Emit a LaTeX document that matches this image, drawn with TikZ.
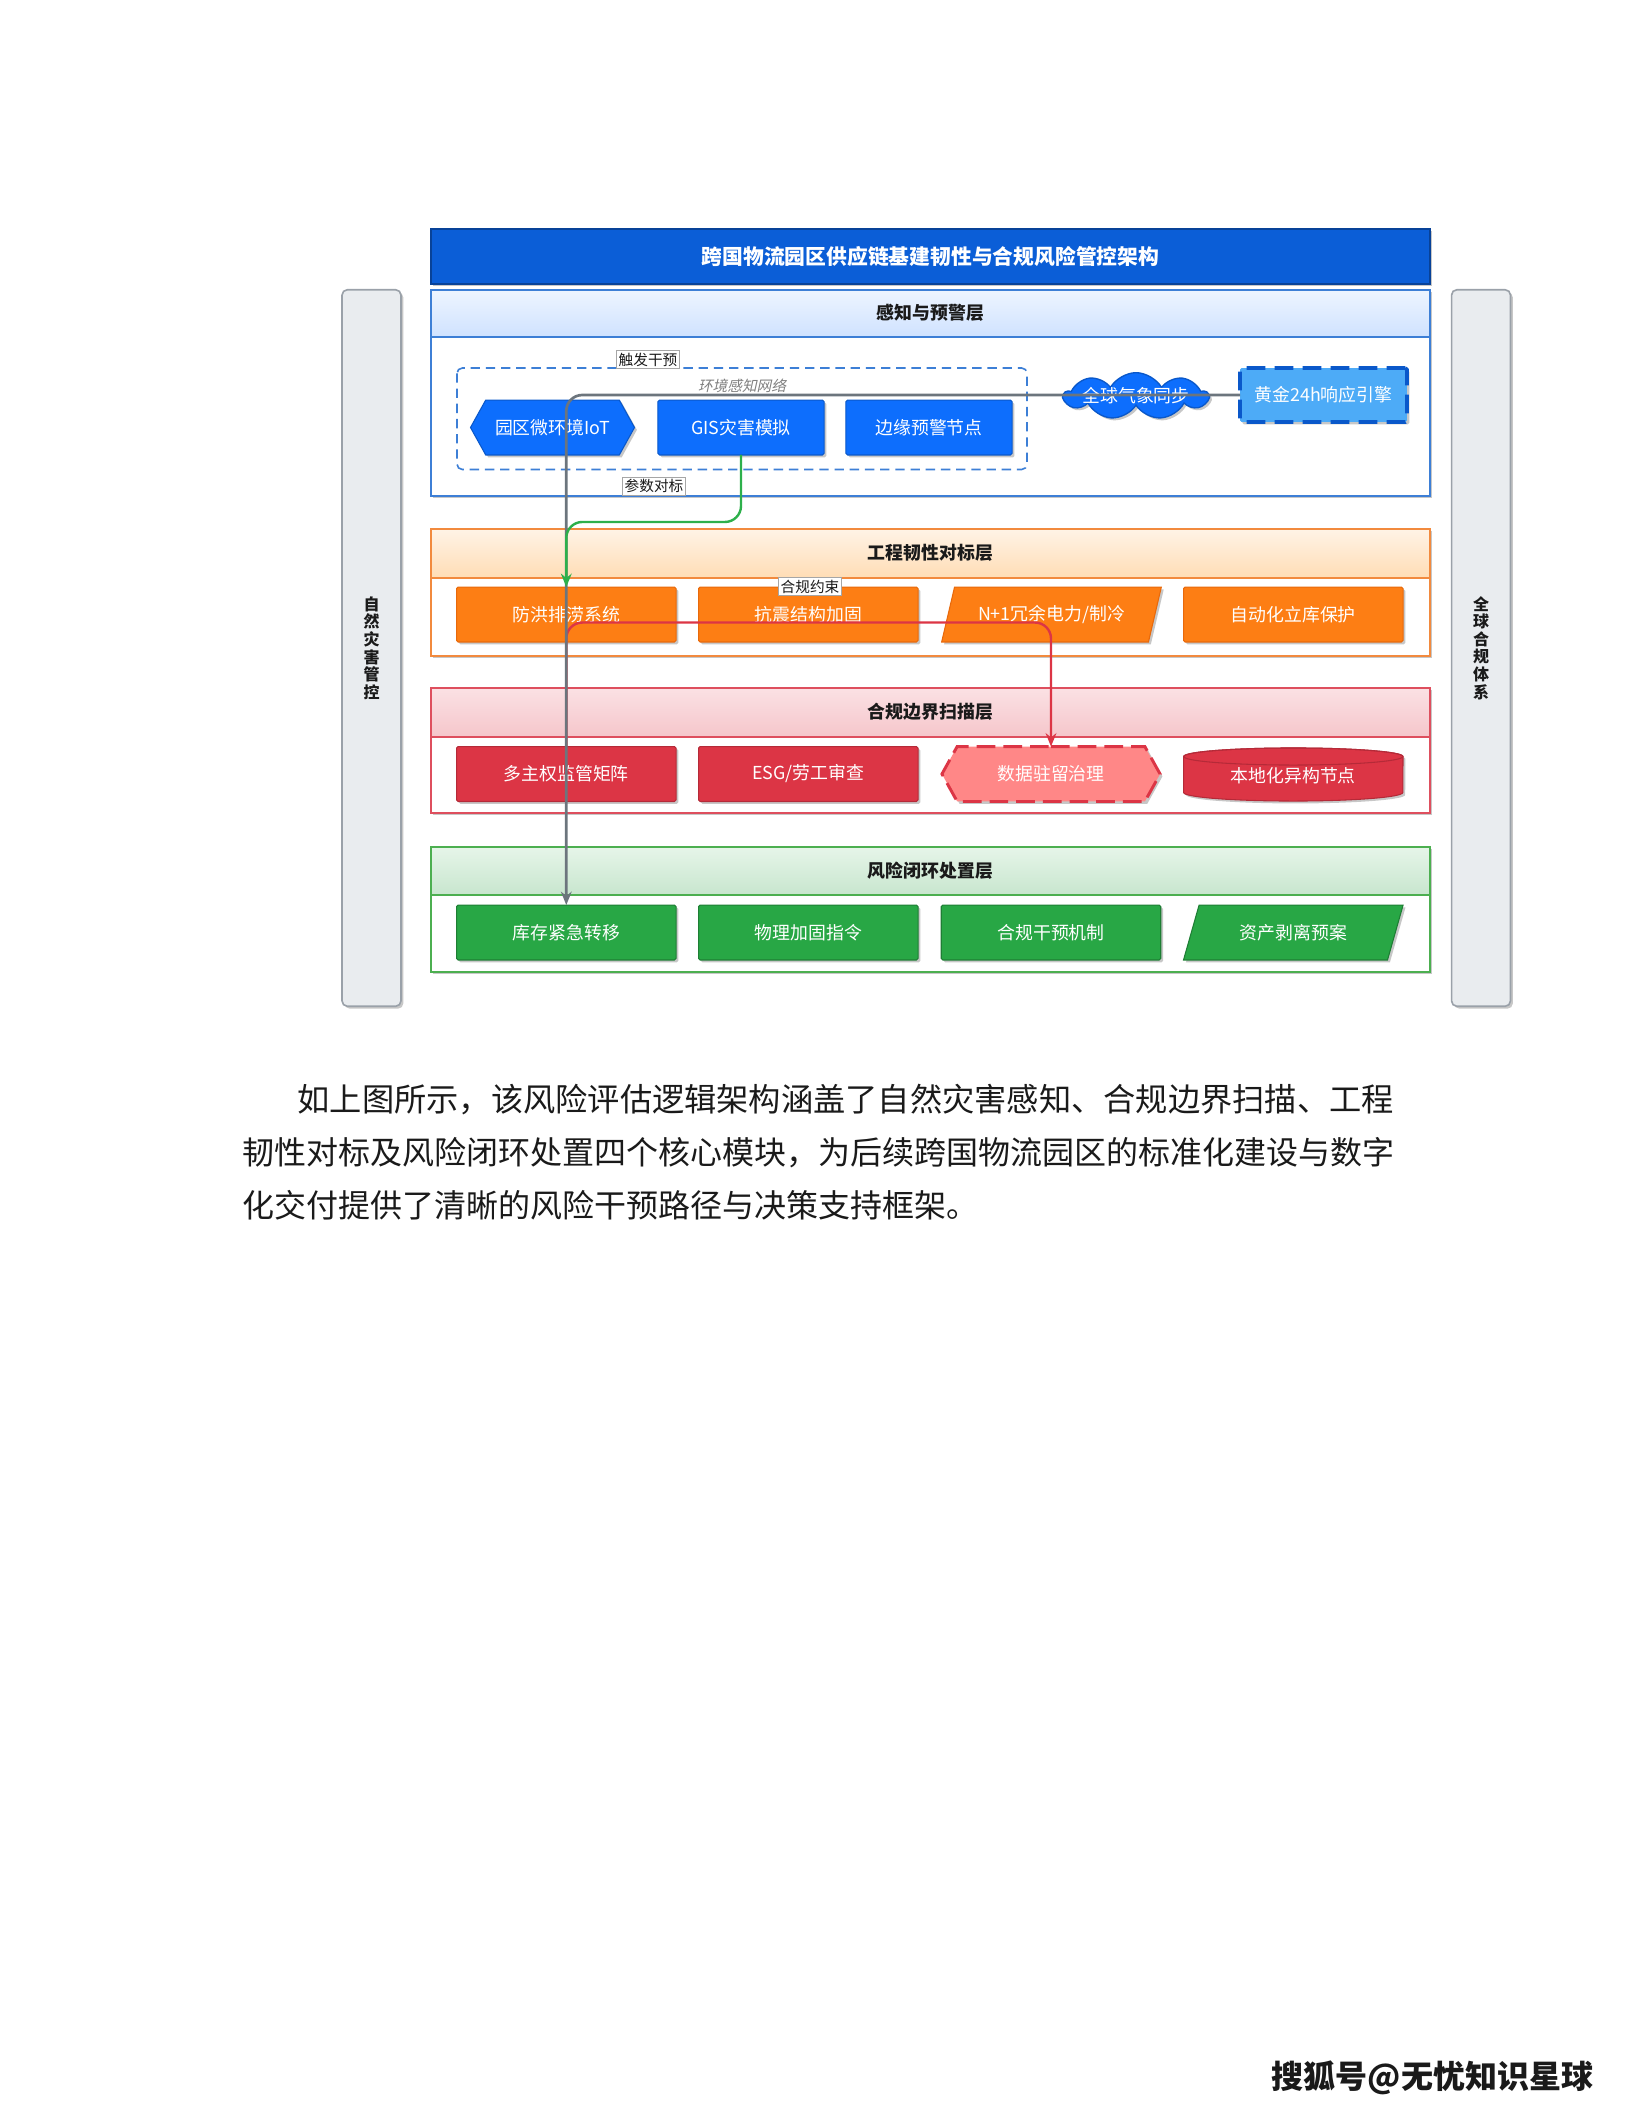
\documentclass[tikz,border=0pt]{standalone}
\usepackage{fontspec}
\setmainfont{Noto Sans CJK SC}
\newfontfamily\slantcjk[FakeSlant=0.22]{Noto Sans CJK SC}
\usepackage{tikz}
\usetikzlibrary{arrows.meta,shapes.geometric,shapes.symbols,shadows}

\definecolor{titleblue}{HTML}{0B5ED7}
\definecolor{titleline}{HTML}{084298}
\definecolor{nodeblue}{HTML}{0D6EFD}
\definecolor{blueline}{HTML}{0A58CA}
\definecolor{goldblue}{HTML}{4DABF7}
\definecolor{lyblue}{HTML}{3D7FD6}
\definecolor{hdblueA}{HTML}{EEF5FF}
\definecolor{hdblueB}{HTML}{CFE2FF}
\definecolor{nodeorange}{HTML}{FD7E14}
\definecolor{orangeline}{HTML}{E8690B}
\definecolor{lyorange}{HTML}{F28A3E}
\definecolor{hdorangeA}{HTML}{FFF3E6}
\definecolor{hdorangeB}{HTML}{FFDDB5}
\definecolor{nodered}{HTML}{DC3545}
\definecolor{redline}{HTML}{B52A38}
\definecolor{lyred}{HTML}{DE4F5E}
\definecolor{hdredA}{HTML}{FBE1E4}
\definecolor{hdredB}{HTML}{F5C6CB}
\definecolor{nodepink}{HTML}{FF8787}
\definecolor{nodegreen}{HTML}{28A745}
\definecolor{greenline}{HTML}{1E7E34}
\definecolor{lygreen}{HTML}{4CAF50}
\definecolor{hdgreenA}{HTML}{E6F5E9}
\definecolor{hdgreenB}{HTML}{C8E6CE}
\definecolor{barfill}{HTML}{E9ECEF}
\definecolor{barline}{HTML}{9AA1A9}
\definecolor{flowgray}{HTML}{6C757D}
\definecolor{flowgreen}{HTML}{2DB04B}
\definecolor{flowred}{HTML}{DC3545}
\definecolor{inktext}{HTML}{1A1A1A}

\begin{document}
\begin{tikzpicture}[x=0.375pt,y=-0.375pt,>={Stealth[length=5pt,width=4pt]},
  every node/.style={inner sep=0pt,outer sep=0pt},
  softshadow/.style={drop shadow={shadow xshift=0.9pt,shadow yshift=-0.9pt,opacity=0.22,fill=black}},
  boxtext/.style={font=\fontsize{6.7pt}{8pt}\selectfont,text=white},
  tile/.style={rectangle,rounded corners=0.6pt,line width=0.4pt,minimum width=82.3pt,minimum height=20.6pt,boxtext,softshadow},
  bluetile/.style={tile,fill=nodeblue,draw=blueline,minimum width=62.3pt},
  orangetile/.style={tile,fill=nodeorange,draw=orangeline},
  redtile/.style={tile,fill=nodered,draw=redline},
  greentile/.style={tile,fill=nodegreen,draw=greenline},
  hextile/.style={signal,signal to=west and east,signal pointer angle=122,line width=0.4pt,minimum height=20.6pt,boxtext,softshadow},
  slanttile/.style={trapezium,trapezium left angle=62,trapezium right angle=118,trapezium stretches=true,line width=0.4pt,minimum width=82.5pt,minimum height=20.6pt,boxtext,softshadow},
  titlebar/.style={rectangle,fill=titleblue,draw=titleline,line width=0.5pt,minimum width=374.6pt,minimum height=20.6pt,font=\fontsize{7.8pt}{9pt}\selectfont\bfseries,text=white,softshadow},
  layerbox/.style={line width=0.75pt,fill=white,softshadow},
  headband/.style={line width=0.75pt},
  headtext/.style={font=\fontsize{6.7pt}{8pt}\selectfont\bfseries,text=inktext},
  groupbox/.style={draw=lyblue,line width=0.6pt,dash pattern=on 3.5pt off 2.2pt,rounded corners=2pt},
  grouptext/.style={font=\fontsize{5.5pt}{6.5pt}\slantcjk,text=gray},
  flowlabel/.style={draw=gray!70,fill=white,line width=0.3pt,inner sep=0.8pt,font=\fontsize{5.5pt}{6.5pt}\selectfont,text=inktext},
  sidebar/.style={rectangle,rounded corners=2pt,fill=barfill,draw=barline,line width=0.6pt,minimum width=22.1pt,minimum height=268.7pt,align=center,font=\fontsize{6pt}{6.6pt}\selectfont\bfseries,text=inktext,softshadow},
  flowline/.style={line width=0.9pt,rounded corners=6pt,->},
  bodytext/.style={font=\fontsize{12pt}{14pt}\selectfont,text=inktext,anchor=west},
]
\useasboundingbox[fill=white] (0,0) rectangle (1632,2112);

% side pillars
\node[sidebar] (leftbar) at (371.5,648) {自\\然\\灾\\害\\管\\控};
\node[sidebar] (rightbar) at (1481,648) {全\\球\\合\\规\\体\\系};

% title
\node[titlebar] (title) at (930.5,256.5) {跨国物流园区供应链基建韧性与合规风险管控架构};

% layer 1: sensing and warning
\draw[layerbox,draw=lyblue] (431,289.5) rectangle (1430,495.5);
\draw[headband,draw=lyblue,top color=hdblueA,bottom color=hdblueB] (431,289.5) rectangle (1430,337);
\node[headtext] (head1) at (930.5,313) {感知与预警层};
\draw[groupbox] (457,368) rectangle (1027,469.5);
\node[grouptext] (grouplbl) at (742,385.5) {环境感知网络};
\node[hextile,fill=nodeblue,draw=blueline,minimum width=61.5pt] (iot) at (552.5,427.5) {园区微环境IoT};
\node[bluetile] (gis) at (741,427.5) {GIS灾害模拟};
\node[bluetile] (edgewarn) at (929,427.5) {边缘预警节点};
\node[cloud,cloud puffs=9,cloud puff arc=120,aspect=2.8,fill=nodeblue,draw=blueline,line width=0.5pt,
  minimum width=54pt,minimum height=17.5pt,softshadow] (meteo) at (1136,396) {};
\node[boxtext] (meteotxt) at (meteo.center) {全球气象同步};
\node[tile,fill=goldblue,draw=blueline,line width=1.4pt,dash pattern=on 7pt off 3.5pt,
  minimum width=62.6pt,minimum height=20.2pt] (gold) at (1323.5,395) {黄金24h响应引擎};

% layer 2: engineering resilience
\draw[layerbox,draw=lyorange] (431,529) rectangle (1430,655.5);
\draw[headband,draw=lyorange,top color=hdorangeA,bottom color=hdorangeB] (431,529) rectangle (1430,577.5);
\node[headtext] (head2) at (930.5,553) {工程韧性对标层};
\node[orangetile] (flood) at (566.3,614.5) {防洪排涝系统};
\node[orangetile] (quake) at (808.3,614.5) {抗震结构加固};
\node[slanttile,fill=nodeorange,draw=orangeline] (power) at (1051.5,614.5) {N+1冗余电力/制冷};
\node[orangetile] (autowh) at (1293.3,614.5) {自动化立库保护};

% layer 3: compliance scanning
\draw[layerbox,draw=lyred] (431,688) rectangle (1430,813);
\draw[headband,draw=lyred,top color=hdredA,bottom color=hdredB] (431,688) rectangle (1430,736.5);
\node[headtext] (head3) at (930.5,712) {合规边界扫描层};
\node[redtile] (multisov) at (566.3,774) {多主权监管矩阵};
\node[redtile] (esg) at (808.3,774) {ESG/劳工审查};
\node[hextile,fill=nodepink,draw=flowred,line width=1.1pt,dash pattern=on 7pt off 3pt,minimum width=81.8pt] (datares) at (1051,774) {数据驻留治理};
% drum for the local node
\draw[fill=nodered,draw=redline,line width=0.4pt,softshadow] (1183.6,756.5) -- (1183.6,792.5)
  arc[start angle=180,end angle=360,x radius=41.1pt,y radius=3.2pt] -- (1403,756.5)
  arc[start angle=0,end angle=180,x radius=41.1pt,y radius=3.2pt] -- cycle;
\draw[draw=redline,line width=0.4pt] (1293.3,756.5) ellipse[x radius=41.1pt,y radius=3.2pt];
\node[boxtext] (localnode) at (1293.3,776) {本地化异构节点};

% layer 4: closed-loop response
\draw[layerbox,draw=lygreen] (431,847) rectangle (1430,972);
\draw[headband,draw=lygreen,top color=hdgreenA,bottom color=hdgreenB] (431,847) rectangle (1430,894.5);
\node[headtext] (head4) at (930.5,870.5) {风险闭环处置层};
\node[greentile] (stock) at (566.3,932.5) {库存紧急转移};
\node[greentile] (physfix) at (808.3,932.5) {物理加固指令};
\node[greentile] (compint) at (1051,932.5) {合规干预机制};
\node[slanttile,fill=nodegreen,draw=greenline] (divest) at (1293.3,932.5) {资产剥离预案};

% flows
\draw[flowline,draw=flowred,fill=none] (multisov.north) -- ++(0,-124) -| (datares.north);
\draw[flowline,draw=flowgray,line width=1pt] (gold.west) -| (stock.north);
\draw[flowline,draw=flowgreen] (gis.south) -- ++(0,67) -| (flood.north);
\node[flowlabel] (lbltrig) at (648,359.5) {触发干预};
\node[flowlabel] (lblparam) at (654,486) {参数对标};
\node[flowlabel] (lblcomp) at (810,586.5) {合规约束};

% text below the figure
\node[bodytext,font=\fontsize{12.09pt}{14pt}\selectfont] (para1) at (297.6,1100) {如上图所示，该风险评估逻辑架构涵盖了自然灾害感知、合规边界扫描、工程};
\node[bodytext] (para2) at (242.4,1152.6) {韧性对标及风险闭环处置四个核心模块，为后续跨国物流园区的标准化建设与数字};
\node[bodytext] (para3) at (242.4,1205) {化交付提供了清晰的风险干预路径与决策支持框架。};
\node[font=\fontsize{12pt}{14pt}\selectfont\bfseries,text=inktext,anchor=east] (sign) at (1593,2078) {搜狐号@无忧知识星球};
\end{tikzpicture}
\end{document}
